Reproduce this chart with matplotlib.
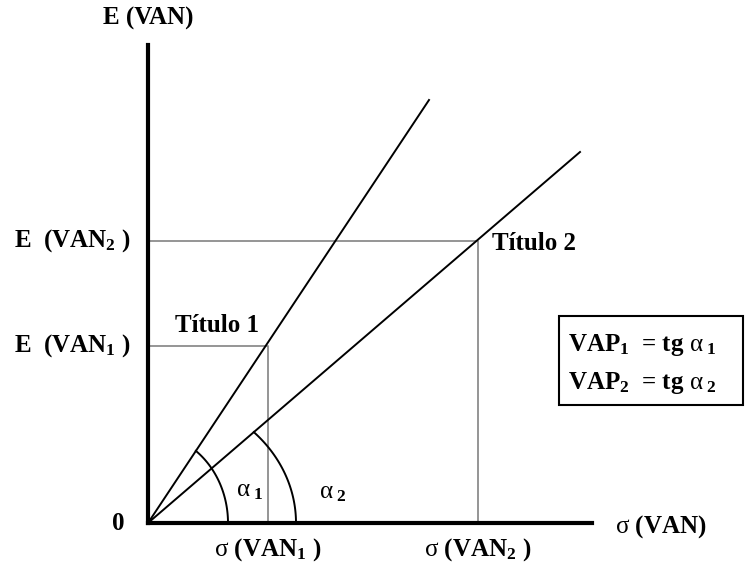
import numpy as np
import matplotlib.pyplot as plt
from matplotlib.patches import Rectangle

plt.rcParams['font.family'] = 'Liberation Serif'
plt.rcParams['font.weight'] = 'bold'
plt.rcParams['mathtext.fontset'] = 'custom'
plt.rcParams['mathtext.rm'] = 'Liberation Serif:weight=normal'
plt.rcParams['mathtext.bf'] = 'Liberation Serif:weight=bold'
plt.rcParams['mathtext.it'] = 'Liberation Serif:italic'

# values (1 unit = 100 px of the original)
sigma_van = [1.20, 3.30]        # sigma(VAN1), sigma(VAN2)
e_van = [1.77, 2.82]            # E(VAN1), E(VAN2)
line_end_x = [2.81, 4.32]       # where the two rays stop
line_end_y = [4.23, 3.71]
arc_w = [0.80, 1.48]            # half-width of the angle arcs
arc_h = [0.90, 1.30]            # half-height of the angle arcs
axis_x_len = 4.44
axis_y_len = 4.78

y_labels = [r"E  (VAN$_\mathbf{1}$ )", r"E  (VAN$_\mathbf{2}$ )"]
x_labels = [r"$\mathrm{\sigma}$ (VAN$_\mathbf{1}$ )", r"$\mathrm{\sigma}$ (VAN$_\mathbf{2}$ )"]
titles = ["Título 1", "Título 2"]
alpha_labels = [r"$\mathrm{\alpha}_{\ \mathbf{1}}$", r"$\mathrm{\alpha}_{\ \mathbf{2}}$"]

fig = plt.figure(figsize=(7.49, 5.70), dpi=100)
ax = fig.add_axes([0, 0, 1, 1])
ax.set_xlim(-1.48, 6.01)
ax.set_ylim(-0.47, 5.23)
ax.axis('off')

# grey guide lines
for s, e in zip(sigma_van, e_van):
    ax.plot([0, s, s], [e, e, 0], color='#8c8c8c', lw=1.3)

# rays from the origin
for xe, ye in zip(line_end_x, line_end_y):
    ax.plot([0, xe], [0, ye], color='black', lw=1.4)

# angle arcs
for xe, ye, a, b in zip(line_end_x, line_end_y, arc_w, arc_h):
    t_end = np.arctan2(ye / xe * a, b)
    t = np.linspace(0, t_end, 100)
    ax.plot(a * np.cos(t), b * np.sin(t), color='black', lw=1.4)

# axes
ax.plot([0, 0], [0, axis_y_len], color='black', lw=3, solid_capstyle='projecting')
ax.plot([0, axis_x_len], [0, 0], color='black', lw=3, solid_capstyle='projecting')

fs = 18
ax.text(0, 5.05, "E (VAN)", ha='center', va='center', fontsize=fs)
ax.text(-0.30, 0.0, "0", ha='center', va='center', fontsize=fs)
ax.text(4.67, -0.04, r"$\mathrm{\sigma}$ (VAN)", ha='left', va='center', fontsize=fs)
for e, lab in zip(e_van, y_labels):
    ax.text(-0.17, e, lab, ha='right', va='center', fontsize=fs)
for s, lab in zip(sigma_van, x_labels):
    ax.text(s, -0.27, lab, ha='center', va='center', fontsize=fs)

ax.text(0.69, 1.97, titles[0], ha='center', va='center', fontsize=fs)
ax.text(3.44, 2.80, titles[1], ha='left', va='center', fontsize=fs)

ax.text(1.02, 0.33, alpha_labels[0], ha='center', va='center', fontsize=fs)
ax.text(1.85, 0.31, alpha_labels[1], ha='center', va='center', fontsize=fs)

ax.add_patch(Rectangle((4.11, 1.18), 1.84, 0.89, fill=False, edgecolor='black', lw=1.5))
ax.text(4.20, 1.78, r"VAP$_\mathbf{1}$  = tg $\mathrm{\alpha}_{\ \mathbf{1}}$", ha='left', va='center', fontsize=fs)
ax.text(4.20, 1.40, r"VAP$_\mathbf{2}$  = tg $\mathrm{\alpha}_{\ \mathbf{2}}$", ha='left', va='center', fontsize=fs)

plt.savefig("out.png", dpi=100)
